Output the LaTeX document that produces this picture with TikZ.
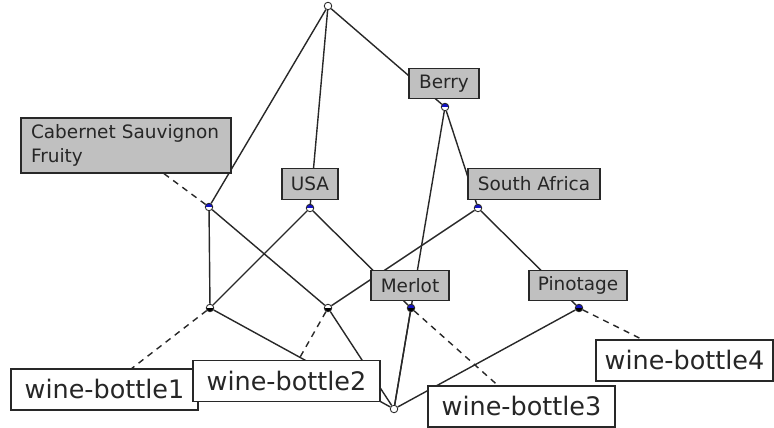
\documentclass[tikz,border=0pt]{standalone}
\usepackage{fontspec}
\setsansfont{DejaVu Sans}
\usetikzlibrary{backgrounds,positioning}
\definecolor{lblgray}{RGB}{192,192,192}
\definecolor{edgegray}{RGB}{40,40,40}
\definecolor{dotblue}{RGB}{20,20,200}

\begin{document}
\begin{tikzpicture}
 [x=0.02cm,y=-0.02cm,
concept/.style={circle,draw=edgegray,fill=white,inner sep=0pt,minimum size=0.15cm,line width=0.5pt},
attr/.style={concept,path picture={\fill[dotblue] (path picture bounding box.north west) rectangle (path picture bounding box.east);}},
obj/.style={concept,path picture={\fill[black] (path picture bounding box.west) rectangle (path picture bounding box.south east);}},
attrobj/.style={concept,path picture={\fill[dotblue] (path picture bounding box.north west) rectangle (path picture bounding box.east);
  \fill[black] (path picture bounding box.west) rectangle (path picture bounding box.south east);}},
attrlbl/.style={draw=edgegray,fill=lblgray,text=black!85,line width=0.7pt,inner sep=0pt,
  font=\sffamily\fontsize{10.5}{13.6}\selectfont,minimum height=0.61cm},
objlbl/.style={draw=edgegray,fill=white,text=black!85,line width=0.7pt,inner sep=0pt,
  font=\sffamily\fontsize{14.5}{17}\selectfont,minimum width=3.74cm,minimum height=0.82cm},
link/.style={edgegray,line width=0.8pt},
objlink/.style={edgegray,line width=0.8pt,dash pattern=on 3.5pt off 3pt}]
\useasboundingbox (0,0) rectangle (774,428);

% concepts
\node (top) at (328,6) [concept] {};
\node (v1) at (209,207) [attr] {};
\node (v2) at (310,208) [attr] {};
\node (v3) at (445,107) [attr] {};
\node (v4) at (478,208) [attr] {};
\node (v5) at (210,308) [obj] {};
\node (v6) at (328,308) [obj] {};
\node (v7) at (411,308) [attrobj] {};
\node (v8) at (579,308) [attrobj] {};
\node (bot) at (394,409) [concept] {};

% attribute labels
\node (a1) at (126,145.5) [attrlbl,minimum width=4.2cm,minimum height=1.1cm,text width=3.8cm,align=left] {Cabernet Sauvignon\\Fruity};
\node (a2) at (310,184) [attrlbl,minimum width=1.12cm] {USA};
\node (a3) at (444,83.5) [attrlbl,minimum width=1.4cm] {Berry};
\node (a4) at (534,184) [attrlbl,minimum width=2.64cm] {South Africa};
\node (a7) at (410,285.5) [attrlbl,minimum width=1.56cm] {Merlot};
\node (a8) at (578,285.5) [attrlbl,minimum width=1.96cm] {Pinotage};

% object labels
\node (o1) at (104.5,389.5) [objlbl] {wine-bottle1};
\node (o2) at (286.5,381) [objlbl] {wine-bottle2};
\node (o3) at (521.5,406.5) [objlbl] {wine-bottle3};
\node (o4) at (684.5,360.5) [objlbl,minimum width=3.54cm] {wine-bottle4};

\begin{scope}[on background layer]
\draw[link] (top) -- (v1);
\draw[link] (top) -- (v2);
\draw[link] (top) -- (v3);
\draw[link] (v3) -- (v4);
\draw[link] (v3) -- (bot);
\draw[link] (v1) -- (v5);
\draw[link] (v1) -- (v6);
\draw[link] (v2) -- (v5);
\draw[link] (v2) -- (v7);
\draw[link] (v4) -- (v6);
\draw[link] (v4) -- (v8);
\draw[link] (v5) -- (bot);
\draw[link] (v6) -- (bot);
\draw[link] (v7) -- (bot);
\draw[link] (v8) -- (bot);

\draw[objlink] (v1) -- (a1);
\draw[objlink] (v5) -- (o1);
\draw[objlink] (v6) -- (o2);
\draw[objlink] (v7) -- (o3);
\draw[objlink] (v8) -- (o4);
\end{scope}
\end{tikzpicture}
\end{document}
